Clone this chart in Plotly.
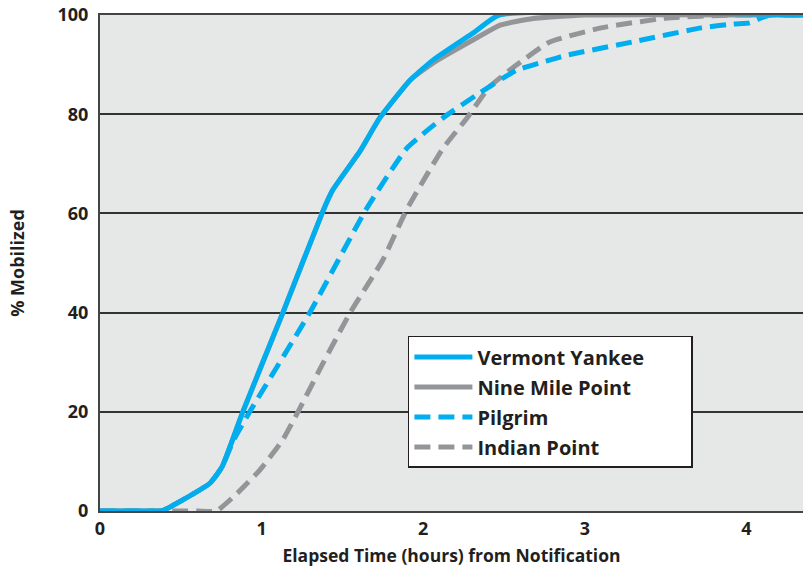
import plotly.graph_objects as go

# Elapsed time (hours) and % mobilized
vy_t = [0, 0.3, 0.38, 0.51, 0.68, 0.755, 0.886, 1.133, 1.38, 1.44, 1.61, 1.73, 1.92, 2.06, 2.31, 2.47, 4.35]
vy_p = [0, 0, 0, 2.2, 5.6, 8.9, 20.2, 40.1, 60.5, 64.7, 72.6, 79.2, 86.9, 90.9, 96.4, 100, 100]

nmp_t = [0, 0.3, 0.38, 0.51, 0.68, 0.755, 0.886, 1.133, 1.38, 1.44, 1.61, 1.73, 1.92, 2.06, 2.31, 2.48, 2.68, 2.79, 3.0, 4.35]
nmp_p = [0, 0, 0, 2.2, 5.6, 8.9, 20.2, 40.1, 60.5, 64.7, 72.6, 79.2, 86.9, 90.3, 95.0, 98.0, 99.3, 99.6, 100, 100]

pil_t = [0, 0.3, 0.38, 0.51, 0.68, 0.755, 0.83, 0.93, 1.30, 1.65, 1.90, 2.12, 2.35, 2.58, 2.77, 2.89, 3.30, 3.72, 3.92, 4.02, 4.09, 4.15, 4.35]
pil_p = [0, 0, 0, 2.2, 5.6, 8.9, 14.5, 20.2, 40.1, 61.0, 73.2, 79.2, 84.3, 88.9, 90.8, 91.9, 94.6, 97.4, 98.2, 98.4, 99.4, 100, 100]

ip_t = [0, 0.6, 0.72, 0.85, 0.99, 1.13, 1.23, 1.38, 1.55, 1.75, 1.90, 2.12, 2.27, 2.41, 2.56, 2.78, 3.10, 3.51, 3.92, 4.35]
ip_p = [0, 0, 0, 3.6, 8.3, 14.3, 20.3, 29.8, 40.1, 50.6, 60.9, 73.0, 79.2, 85.5, 89.5, 94.5, 97.4, 99.4, 100, 100]

x_ticks = [0, 1, 2, 3, 4]
y_ticks = [0, 20, 40, 60, 80, 100]

BLUE = "#00aeef"
GRAY = "#939598"
TXT = "#231f20"
FONT = "Open Sans"
SM = 0.45
PAD = "\u00a0" * 8

fig = go.Figure()
# draw order: dashed first, then gray solid, then blue solid on top
fig.add_trace(go.Scatter(x=ip_t, y=ip_p, mode="lines", name="Indian Point", legendgroup="d", legendrank=4,
                         line=dict(color=GRAY, width=5, dash="16px,8px", shape="spline", smoothing=SM)))
fig.add_trace(go.Scatter(x=pil_t, y=pil_p, mode="lines", name="Pilgrim", legendgroup="c", legendrank=3,
                         line=dict(color=BLUE, width=5, dash="16px,8px", shape="spline", smoothing=SM)))
fig.add_trace(go.Scatter(x=nmp_t, y=nmp_p, mode="lines", name="Nine Mile Point", legendgroup="b", legendrank=2,
                         line=dict(color=GRAY, width=5, shape="spline", smoothing=SM)))
fig.add_trace(go.Scatter(x=vy_t, y=vy_p, mode="lines", name="Vermont Yankee" + PAD, legendgroup="a", legendrank=1,
                         line=dict(color=BLUE, width=5, shape="spline", smoothing=SM)))

fig.update_layout(
    width=804, height=567,
    margin=dict(l=100, r=1, t=15, b=56, autoexpand=False),
    paper_bgcolor="white",
    plot_bgcolor="#e6e7e7",
    font=dict(family=FONT, color=TXT, size=18, weight="bold"),
    showlegend=True,
    legend=dict(
        x=0.438, y=0.353, xanchor="left", yanchor="top",
        bgcolor="white", bordercolor="#231f20", borderwidth=1.5,
        font=dict(family=FONT, size=20, color=TXT, weight="bold"),
        traceorder="grouped", tracegroupgap=1, itemwidth=58,
    ),
    xaxis=dict(
        range=[0, 4.35], tickvals=x_ticks, ticktext=[str(v) for v in x_ticks],
        showgrid=False, zeroline=False, showline=True, mirror=True,
        linecolor="#444444", linewidth=2, ticks="", automargin=False,
        ticklabeloverflow="allow",
        tickfont=dict(size=18, weight="bold"),
        title=dict(text="Elapsed Time (hours) from Notification", font=dict(size=17.5, weight="bold"), standoff=12),
    ),
    yaxis=dict(
        range=[0, 100], tickvals=y_ticks, ticktext=[str(v) for v in y_ticks],
        showgrid=True, gridcolor="#333333", gridwidth=1.5, zeroline=False,
        showline=True, linecolor="#444444", linewidth=2, ticks="", automargin=False,
        ticklabelstandoff=6, ticklabeloverflow="allow",
        tickfont=dict(size=18, weight="bold"),
        title=dict(text="% Mobilized", font=dict(size=18, weight="bold"), standoff=28),
    ),
)

fig.write_html("out.html", config={"displayModeBar": False},
               post_script="document.body.style.margin='0';document.body.style.overflow='hidden';")
